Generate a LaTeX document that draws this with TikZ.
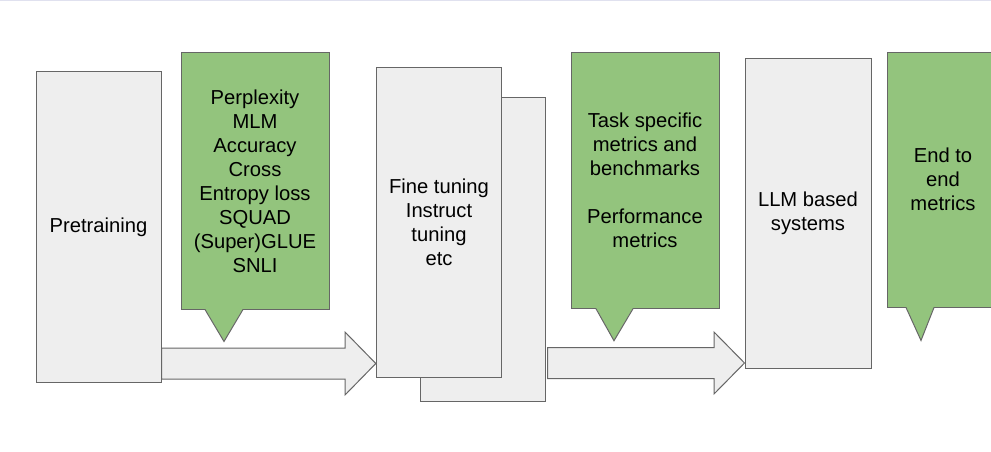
\documentclass[tikz,border=0pt]{standalone}
\usepackage{fontspec}
\setmainfont{Liberation Sans}
\definecolor{boxgray}{HTML}{EEEEEE}
\definecolor{edgegray}{HTML}{666666}
\definecolor{metricgreen}{HTML}{93C47D}
\definecolor{topline}{HTML}{E0E1EF}
\tikzset{%
  stagebox/.style   = {shape=rectangle, draw=edgegray, fill=boxgray,%
                       line width=1pt, align=center, inner sep=0pt},%
  metricbox/.style  = {stagebox, fill=metricgreen},%
  blockarrow/.style = {draw=edgegray, fill=boxgray, line width=1pt},%
  pointer/.style    = {draw=edgegray, line width=1pt}%
}

\begin{document}
\begin{tikzpicture}[x=1pt,y=-1pt,
	every node/.style = {font=\fontsize{20.2}{24}\selectfont}]
	\useasboundingbox (0,0) rectangle (991,452);
	\clip (0,0) rectangle (991,452);
	\draw[topline, line width=1.5pt] (0,0.75) -- (991,0.75);
		% stages
		\node [stagebox, minimum width=125pt, minimum height=310pt] (pre) at (98.5,227) {Pretraining};
		\node [stagebox, minimum width=125.5pt, minimum height=303.5pt] (back) at (482.75,249.25) {};
		\node [stagebox, minimum width=125.4pt, minimum height=310.4pt] (fine) at (439,222.5)
			{Fine tuning\\Instruct\\tuning\\etc};
		\node [stagebox, minimum width=126pt, minimum height=309.5pt] (llm) at (808,213.75)
			{LLM based\\systems};
		% metrics
		\node [metricbox, minimum width=148pt, minimum height=256pt] (m1) at (255,181)
			{Perplexity\\MLM\\Accuracy\\Cross\\Entropy loss\\SQUAD\\(Super)GLUE\\SNLI};
		\fill[metricgreen] ([xshift=-50pt,yshift=0.8pt]m1.south) -- ([xshift=-31pt,yshift=-32pt]m1.south)
			-- ([xshift=-12pt,yshift=0.8pt]m1.south) -- cycle;
		\draw[pointer] ([xshift=-50pt]m1.south) -- ([xshift=-31pt,yshift=-32pt]m1.south) -- ([xshift=-12pt]m1.south);
		\node [metricbox, minimum width=148pt, minimum height=255.5pt] (m2) at (645,180.5)
			{Task specific\\metrics and\\benchmarks\\[24pt]Performance\\metrics};
		\fill[metricgreen] ([xshift=-49pt,yshift=0.8pt]m2.south) -- ([xshift=-31pt,yshift=-32pt]m2.south)
			-- ([xshift=-12pt,yshift=0.8pt]m2.south) -- cycle;
		\draw[pointer] ([xshift=-49pt]m2.south) -- ([xshift=-31pt,yshift=-32pt]m2.south) -- ([xshift=-12pt]m2.south);
		\node [metricbox, minimum width=112pt, minimum height=254.5pt] (m3) at (943,179.75)
			{End to\\end\\metrics};
		\fill[metricgreen] ([xshift=-37pt,yshift=0.8pt]m3.south) -- ([xshift=-22pt,yshift=-33pt]m3.south)
			-- ([xshift=-9pt,yshift=0.8pt]m3.south) -- cycle;
		\draw[pointer] ([xshift=-37pt]m3.south) -- ([xshift=-22pt,yshift=-33pt]m3.south) -- ([xshift=-9pt]m3.south);
		% flow arrows
		\coordinate (a2) at ([xshift=1.5pt]back.east);
		\draw[blockarrow] (pre.east |- 0,348) -- (345,348) -- (345,332) -- (fine.west |- 0,363.5)
			-- (345,395) -- (345,379) -- (pre.east |- 0,379) -- cycle;
		\draw[blockarrow] (a2 |- 0,347.5) -- (714,347.5) -- (714,332) -- (llm.west |- 0,363)
			-- (714,394) -- (714,378.5) -- (a2 |- 0,378.5) -- cycle;
	\end{tikzpicture}
\end{document}
